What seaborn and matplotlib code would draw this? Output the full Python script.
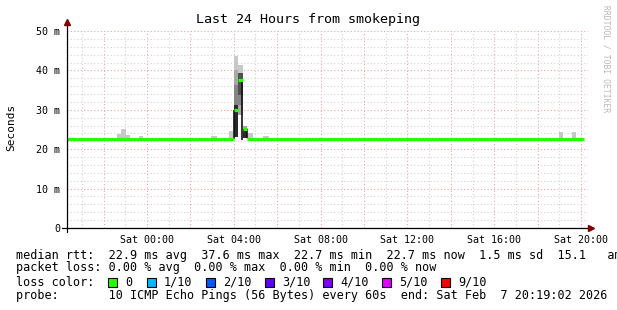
import numpy as np
import pandas as pd
import matplotlib
matplotlib.use("Agg")
import matplotlib.pyplot as plt
import seaborn as sns
from matplotlib.patches import Rectangle

sns.set_style("white")
plt.rcParams["font.family"] = ["DejaVu Sans Mono", "DejaVu Sans"]

# ---------------- data ----------------
END = pd.Timestamp("2026-02-07 20:19:02")
START = END - pd.Timedelta(hours=24)
MIDNIGHT = pd.Timestamp("2026-02-07 00:00:00")

# median rtt (ms) steps
median_start = ["2026-02-06 20:19", "2026-02-07 04:00", "2026-02-07 04:12",
                "2026-02-07 04:25", "2026-02-07 04:36"]
median_end = ["2026-02-07 04:00", "2026-02-07 04:12", "2026-02-07 04:25",
              "2026-02-07 04:36", "2026-02-07 20:08"]
median_ms = [22.7, 30.0, 37.6, 25.2, 22.7]

# smoke bands: start, end, low ms, high ms, overlapping pings (1 light .. 5 dark)
smoke_start = ["2026-02-06 22:37", "2026-02-06 22:48", "2026-02-06 23:02", "2026-02-06 23:38",
               "2026-02-07 02:57", "2026-02-07 03:47",
               "2026-02-07 04:00", "2026-02-07 04:00", "2026-02-07 04:00", "2026-02-07 04:00",
               "2026-02-07 04:12", "2026-02-07 04:12", "2026-02-07 04:12", "2026-02-07 04:12",
               "2026-02-07 04:25", "2026-02-07 04:25",
               "2026-02-07 04:36", "2026-02-07 05:21",
               "2026-02-07 18:59", "2026-02-07 19:35"]
smoke_end = ["2026-02-06 22:48", "2026-02-06 23:02", "2026-02-06 23:13", "2026-02-06 23:49",
             "2026-02-07 03:14", "2026-02-07 03:58",
             "2026-02-07 04:12", "2026-02-07 04:12", "2026-02-07 04:12", "2026-02-07 04:12",
             "2026-02-07 04:25", "2026-02-07 04:25", "2026-02-07 04:25", "2026-02-07 04:25",
             "2026-02-07 04:36", "2026-02-07 04:36",
             "2026-02-07 04:52", "2026-02-07 05:37",
             "2026-02-07 19:10", "2026-02-07 19:46"]
smoke_lo = [22.5, 22.5, 22.5, 22.5,
            22.5, 22.5,
            23.1, 31.2, 36.3, 40.1,
            28.6, 31.2, 33.8, 39.3,
            22.8, 25.2,
            22.5, 22.5,
            22.5, 22.5]
smoke_hi = [23.9, 25.1, 23.7, 23.3,
            23.3, 24.6,
            31.2, 36.3, 40.1, 43.7,
            31.2, 33.8, 39.3, 41.4,
            25.2, 26.0,
            24.0, 23.3,
            24.4, 24.4]
smoke_pings = [1, 1, 1, 1,
               1, 1,
               5, 3, 2, 1,
               2, 3, 4, 1,
               5, 2,
               1, 1,
               1, 1]

# dark step connectors inside the spike
conn_time = ["2026-02-07 04:00", "2026-02-07 04:24", "2026-02-07 04:36"]
conn_lo = [22.7, 22.3, 22.8]
conn_hi = [30.0, 37.6, 25.2]

y_ticks = [0, 10, 20, 30, 40, 50]
y_labels = ["0", "10 m", "20 m", "30 m", "40 m", "50 m"]

loss_labels = ["0", "1/10", "2/10", "3/10", "4/10", "5/10", "9/10"]
loss_colors = ["#26ff00", "#00b8ff", "#0059ff", "#5e00ff", "#7e00ff", "#dd00ff", "#ff0000"]

legend_lines = [
    "median rtt:  22.9 ms avg  37.6 ms max  22.7 ms min  22.7 ms now  1.5 ms sd  15.1   am/s",
    "packet loss: 0.00 % avg  0.00 % max  0.00 % min  0.00 % now",
    "loss color:",
    "probe:       10 ICMP Echo Pings (56 Bytes) every 60s  end: Sat Feb  7 20:19:02 2026",
]


def hrs(ts):
    return (pd.Timestamp(ts) - MIDNIGHT) / pd.Timedelta(hours=1)


W, H = 617, 310
fig = plt.figure(figsize=(W / 100, H / 100), dpi=100)
fig.patch.set_facecolor("white")
ax = fig.add_axes([67 / W, (H - 228) / H, 521 / W, 197 / H])
ax.set_facecolor("white")

# ---------------- smoke ----------------
shade = {1: "#c8c8c8", 2: "#a8a8a8", 3: "#858585", 4: "#505050", 5: "#2a2a2a"}
for s, e, lo, hi, p in zip(smoke_start, smoke_end, smoke_lo, smoke_hi, smoke_pings):
    x0, x1 = hrs(s), hrs(e)
    ax.bar(x0, hi - lo, bottom=lo, width=x1 - x0, align="edge",
           color=shade[p], linewidth=0, zorder=2)

for t, lo, hi in zip(conn_time, conn_lo, conn_hi):
    ax.vlines(hrs(t), lo, hi, color="#151010", linewidth=1.2, zorder=3)

# ---------------- median line ----------------
rows = []
for i, (s, e, v) in enumerate(zip(median_start, median_end, median_ms)):
    rows.append({"h": hrs(s), "ms": v, "seg": i})
    rows.append({"h": hrs(e), "ms": v, "seg": i})
mdf = pd.DataFrame(rows)
sns.lineplot(data=mdf, x="h", y="ms", units="seg", estimator=None, sort=False,
             color=loss_colors[0], linewidth=2.3, ax=ax, legend=False, zorder=4)
for l in ax.lines:
    l.set_solid_capstyle("butt")

# ---------------- axes ----------------
ax.set_xlim(hrs(START), hrs(END))
ax.set_ylim(0, 50)
ax.set_xlabel("")
ax.set_ylabel("")

major_x = np.arange(-2, 21, 2)
ax.set_xticks(major_x)
ax.set_xticklabels([f"Sat {int(h):02d}:00" if (h >= 0 and h % 4 == 0) else "" for h in major_x])
ax.set_xticks(np.arange(-3, 21, 1), minor=True)
ax.set_yticks(y_ticks)
ax.set_yticklabels(y_labels)
ax.set_yticks(np.arange(0, 51, 2), minor=True)

ax.set_axisbelow(True)
ax.grid(which="major", color="#f2a0a0", linestyle=(0, (1, 2)), linewidth=0.8)
ax.grid(which="minor", color="#d2d2d2", linestyle=(0, (1, 2)), linewidth=0.8)

for sp in ax.spines.values():
    sp.set_visible(False)

ax.tick_params(which="major", axis="both", length=4, width=0.8, direction="inout",
               color="#e06060", labelsize=7.2, labelcolor="black")
ax.tick_params(which="minor", axis="both", length=3, width=0.6, direction="inout",
               color="#909090")
ax.tick_params(axis="x", which="major", pad=3)
ax.tick_params(axis="y", which="major", pad=3)

# axis lines with arrows
ax.plot([0, 0], [-4 / 197, 1 + 9 / 197], transform=ax.transAxes, color="black",
        linewidth=0.9, clip_on=False, zorder=5)
ax.plot([-5 / 521, 1 + 3 / 521], [0, 0], transform=ax.transAxes, color="black",
        linewidth=0.9, clip_on=False, zorder=5)
ax.plot([0], [1 + 9 / 197], transform=ax.transAxes, marker="^", color="#800000",
        markersize=4, clip_on=False, zorder=6)
ax.plot([1 + 3 / 521], [0], transform=ax.transAxes, marker=">", color="#800000",
        markersize=4, clip_on=False, zorder=6)

# ---------------- texts ----------------
fig.text(0.5, 1 - 19 / H, "Last 24 Hours from smokeping", ha="center", va="center",
         fontsize=9.6, color="black")
fig.text(11 / W, 1 - 127 / H, "Seconds", rotation=90, ha="center", va="center",
         fontsize=8, color="black")
fig.text(606 / W, 1 - 59 / H, "RRDTOOL / TOBI OETIKER", rotation=270, ha="center",
         va="center", fontsize=5.8, color="#b8b8b8")

ys = [255, 268, 282, 296]
for txt, y in zip(legend_lines, ys):
    fig.text(16 / W, 1 - y / H, txt, ha="left", va="center", fontsize=8.5, color="black")

box_x = [108, 147, 206, 265, 323, 382, 441]
for bx, lab, col in zip(box_x, loss_labels, loss_colors):
    fig.add_artist(Rectangle((bx / W, 1 - 286.5 / H), 9 / W, 9 / H,
                             transform=fig.transFigure, facecolor=col,
                             edgecolor="black", linewidth=0.8))
    fig.text((bx + 17) / W, 1 - 282 / H, lab, ha="left", va="center",
             fontsize=8.5, color="black")

fig.savefig("out.png", dpi=100, facecolor="white")
